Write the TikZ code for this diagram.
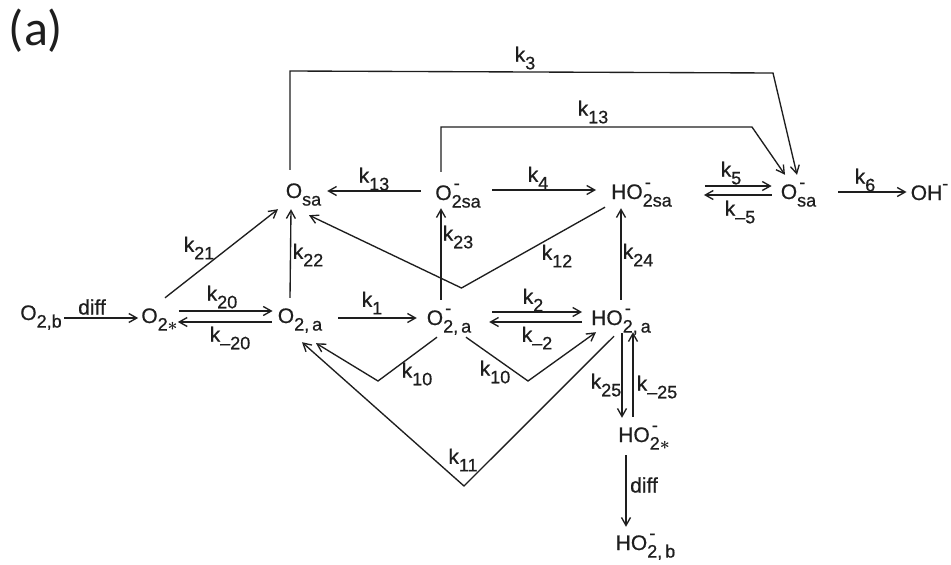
\documentclass[tikz,border=0pt]{standalone}
\usepackage{fontspec}
\setmainfont{Liberation Sans}[RawFeature={embolden=0.7}]
\newfontfamily\capfont{Carlito}
\usepackage{tikz}
\usetikzlibrary{arrows.meta}
\definecolor{inkgray}{RGB}{30, 30, 30}
\newcommand{\lowsub}[1]{\raisebox{-.36em}{\fontsize{18}{20}\selectfont #1}}
\newcommand{\highminus}{\rlap{\raisebox{.52em}{\kern.1em\fontsize{18}{20}\selectfont -}}}
\tikzset{
    spc/.style={inner sep=0pt, text height=15pt, text depth=7pt, align=center, text=inkgray, font=\fontsize{21}{24}\selectfont},
    lbl/.style={inner sep=0pt, text=inkgray, font=\fontsize{21}{24}\selectfont},
    rxn/.style={->, >={Straight Barb[length=8pt,width=9pt]}, line width=1.35pt, color=inkgray}
}

\begin{document}
\begin{tikzpicture}[x=1pt,y=-1pt]
        \useasboundingbox (0,0) rectangle (951,565);
        \node[lbl, font=\capfont\fontsize{50}{56}\selectfont] (panel) at (36,31) {(a)};

        \node[spc, minimum width=42pt] (o2b) at (41,316) {O\lowsub{2,b}};
        \node[spc, minimum width=35pt] (o2star) at (159.5,319) {O\lowsub{2{\boldmath$\ast$}}};
        \node[spc, minimum width=44pt] (o2a) at (300,319) {O\lowsub{2,\,a}};
        \node[spc, minimum width=48pt] (o2am) at (449,321) {O\highminus\lowsub{2,\,a}};
        \node[spc, minimum width=58pt] (ho2a) at (621,321) {HO\highminus\lowsub{2,\,a}};
        \node[spc, minimum width=37pt] (osa) at (303.5,194) {O\lowsub{sa}};
        \node[spc, minimum width=50pt] (o2sa) at (458,196) {O\highminus\lowsub{2sa}};
        \node[spc, minimum width=57pt] (ho2sa) at (641.5,195) {HO\highminus\lowsub{2sa}};
        \node[spc, minimum width=33pt] (osam) at (798.5,195) {O\highminus\lowsub{sa}};
        \node[spc, minimum width=35pt] (oh) at (929.5,196) {OH\raisebox{.5em}{\fontsize{18}{20}\selectfont -}};
        \node[spc, minimum width=48pt] (ho2s) at (644,438) {HO\highminus\lowsub{2{\boldmath$\ast$}}};
        \node[spc, minimum width=55pt] (ho2b) at (645.5,546) {HO\highminus\lowsub{2,\,b}};

        \coordinate (bend3a) at (290,71);
        \coordinate (bend3b) at (773,73);
        \coordinate (bend13a) at (441,127);
        \coordinate (bend13b) at (752,127);
        \coordinate (kink12) at (461.5,288);
        \coordinate (kink10l) at (378,381);
        \coordinate (kink10r) at (528,381);
        \coordinate (kink11) at (464,486);

        \draw[rxn] ([shift={(2,2)}]o2b.east) -- ([shift={(-3,-1)}]o2star.west);
        \draw[rxn] ([shift={(1,-8)}]o2star.east) -- ([shift={(-5,-8)}]o2a.west);
        \draw[rxn] ([shift={(-6,3)}]o2a.west) -- ([shift={(0,3)}]o2star.east);
        \draw[rxn] ([shift={(5.5,-10)}]o2star.north) -- ([shift={(-25.5,4)}]osa.south);
        \draw[rxn] ([shift={(-10,-10)}]o2a.north) -- ([shift={(-12.5,4)}]osa.south);
        \draw[rxn] ([shift={(16,-1)}]o2a.east) -- ([shift={(-8,-3)}]o2am.west);
        \draw[rxn] ([shift={(-8,-10)}]o2am.north) -- ([shift={(-17,1)}]o2sa.south);
        \draw[rxn] ([shift={(-12,-5)}]o2sa.west) -- ([shift={(5,-3)}]osa.east);
        \draw[rxn] ([shift={(9,-6)}]o2sa.east) -- ([shift={(-15,-5)}]ho2sa.west);
        \draw[rxn] ([shift={(33,-9)}]ho2sa.east) -- ([shift={(-9,-9)}]osam.west);
        \draw[rxn] ([shift={(-9,0)}]osam.west) -- ([shift={(32,0)}]ho2sa.east);
        \draw[rxn] ([shift={(22,-3)}]osam.east) -- ([shift={(-4,-4)}]oh.west);
        \draw[rxn] ([shift={(0,-10)}]ho2a.north) -- ([shift={(-20.5,2)}]ho2sa.south);
        \draw[rxn] ([shift={(19,-9)}]o2am.east) -- ([shift={(-9,-9)}]ho2a.west);
        \draw[rxn] ([shift={(-9,1)}]ho2a.west) -- ([shift={(16,1)}]o2am.east);
        \draw[rxn] ([shift={(-36.5,1)}]ho2sa.south) -- (kink12) -- ([shift={(5.5,10)}]osa.south);
        \draw[rxn] ([shift={(-12,5)}]o2am.south) -- (kink10l) -- ([shift={(16,13)}]o2a.south);
        \draw[rxn] ([shift={(17,5)}]o2am.south) -- (kink10r) -- ([shift={(-25,0)}]ho2a.south);
        \draw[rxn] ([shift={(-7,4)}]ho2a.south) -- (kink11) -- ([shift={(2,12)}]o2a.south);
        \draw[rxn] ([shift={(1,1)}]ho2a.south) -- ([shift={(-22,-9)}]ho2s.north);
        \draw[rxn] ([shift={(-11,-10)}]ho2s.north) -- ([shift={(12,0)}]ho2a.south);
        \draw[rxn] ([shift={(-18,6)}]ho2s.south) -- ([shift={(-19.5,-8)}]ho2b.north);
        \draw[rxn] ([shift={(-13.5,-13)}]osa.north) -- (bend3a) -- (bend3b) -- ([shift={(-1.5,-9)}]osam.north);
        \draw[rxn] ([shift={(-17,-13)}]o2sa.north) -- (bend13a) -- (bend13b) -- ([shift={(-13.5,-9)}]osam.north);

        \node[lbl] (k3) at (525,58) {k\lowsub{3}};
        \node[lbl] (k13top) at (593,112) {k\lowsub{13}};
        \node[lbl] (k13low) at (374,179) {k\lowsub{13}};
        \node[lbl] (k4) at (538,178) {k\lowsub{4}};
        \node[lbl] (k5) at (731,173) {k\lowsub{5}};
        \node[lbl] (km5) at (740,212) {k\lowsub{--5}};
        \node[lbl] (k6) at (865,180) {k\lowsub{6}};
        \node[lbl] (k21) at (199,248) {k\lowsub{21}};
        \node[lbl] (k22) at (308,255) {k\lowsub{22}};
        \node[lbl] (k20) at (222,297) {k\lowsub{20}};
        \node[lbl] (km20) at (230,338) {k\lowsub{--20}};
        \node[lbl] (k1) at (372,303) {k\lowsub{1}};
        \node[lbl] (k23) at (458,237) {k\lowsub{23}};
        \node[lbl] (k12) at (557,256) {k\lowsub{12}};
        \node[lbl] (k24) at (638,255) {k\lowsub{24}};
        \node[lbl] (k2) at (533,300) {k\lowsub{2}};
        \node[lbl] (km2) at (537,338) {k\lowsub{--2}};
        \node[lbl] (k10l) at (417,374) {k\lowsub{10}};
        \node[lbl] (k10r) at (495,372) {k\lowsub{10}};
        \node[lbl] (k11) at (463,460) {k\lowsub{11}};
        \node[lbl] (k25) at (606,385) {k\lowsub{25}};
        \node[lbl] (km25) at (657,387) {k\lowsub{--25}};
        \node[lbl] (difftop) at (92,307) {diff};
        \node[lbl] (diffdown) at (644,485) {diff};
    \end{tikzpicture}
\end{document}
